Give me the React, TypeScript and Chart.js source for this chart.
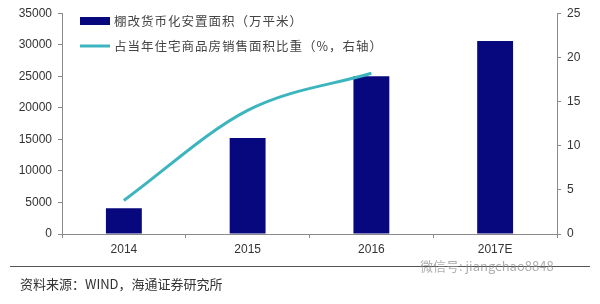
import React, { useEffect, useRef } from "react";
import { Chart, registerables } from "chart.js";

Chart.register(...registerables);

const categories = ["2014", "2015", "2016", "2017E"];
const areaValues = [4100, 15200, 25000, 30600];
const shareValues: (number | null)[] = [3.8, 14.0, 18.2, null];
const areaLabel = "棚改货币化安置面积（万平米）";
const shareLabel = "占当年住宅商品房销售面积比重（%，右轴）";
const sourceText = "资料来源：WIND，海通证券研究所";
const watermarkText = "微信号: jiangchao8848";

const BAR_COLOR = "#08087e";
const LINE_COLOR = "#3db5be";
const AXIS_COLOR = "#8a8a8a";
const TEXT_COLOR = "#333333";
const CJK = '"Noto Sans CJK SC", sans-serif';
const NUM = '"Liberation Sans", Arial, sans-serif';

const overlayPlugin = {
  id: "overlay",
  afterDraw(chart: any) {
    const ctx = chart.ctx as CanvasRenderingContext2D;
    ctx.save();
    // legend
    ctx.fillStyle = BAR_COLOR;
    ctx.fillRect(80, 17, 30, 8);
    ctx.strokeStyle = LINE_COLOR;
    ctx.lineWidth = 3;
    ctx.beginPath();
    ctx.moveTo(80, 46);
    ctx.lineTo(110, 46);
    ctx.stroke();
    ctx.fillStyle = "#444";
    ctx.font = `12.5px ${CJK}`;
    ctx.textBaseline = "middle";
    ctx.textAlign = "left";
    (ctx as any).letterSpacing = "1px";
    ctx.fillText(areaLabel, 114, 21);
    ctx.fillText(shareLabel, 114, 46);
    (ctx as any).letterSpacing = "0px";
    // bottom rule
    ctx.strokeStyle = "#555";
    ctx.lineWidth = 1;
    ctx.beginPath();
    ctx.moveTo(10, 266.5);
    ctx.lineTo(590, 266.5);
    ctx.stroke();
    // source
    ctx.fillStyle = TEXT_COLOR;
    ctx.font = `13px ${CJK}`;
    ctx.fillText(sourceText, 20, 284);
    // watermark
    ctx.fillStyle = "rgba(140,140,140,0.7)";
    ctx.font = `13px ${CJK}`;
    ctx.fillText(watermarkText, 420, 266);
    ctx.restore();
  },
};

const plain = (v: any) => String(v);

export default function App() {
  const ref = useRef<HTMLCanvasElement | null>(null);
  useEffect(() => {
    if (!ref.current) return;
    const chart = new Chart(ref.current, {
      type: "bar",
      data: {
        labels: categories,
        datasets: [
          {
            type: "line",
            label: shareLabel,
            data: shareValues,
            yAxisID: "y1",
            borderColor: LINE_COLOR,
            borderWidth: 3,
            pointRadius: 0,
            tension: 0.4,
            cubicInterpolationMode: "monotone",
            fill: false,
            order: 0,
          } as any,
          {
            type: "bar",
            label: areaLabel,
            data: areaValues,
            yAxisID: "y",
            backgroundColor: BAR_COLOR,
            categoryPercentage: 1,
            barPercentage: 0.29,
            order: 1,
          },
        ],
      },
      options: {
        responsive: false,
        animation: false,
        layout: { padding: { top: 13, left: 0, right: 0, bottom: 0 } },
        plugins: { legend: { display: false }, tooltip: { enabled: false } },
        scales: {
          x: {
            grid: { drawOnChartArea: false, drawTicks: true, tickLength: 4, color: AXIS_COLOR, offset: true },
            border: { color: AXIS_COLOR },
            ticks: { color: TEXT_COLOR, font: { family: NUM, size: 12 }, padding: 4 },
            afterFit(scale: any) {
              scale.height = 70;
            },
          },
          y: {
            position: "left",
            min: 0,
            max: 35000,
            ticks: { stepSize: 5000, color: TEXT_COLOR, font: { family: NUM, size: 12 }, padding: 6, callback: plain },
            grid: { drawOnChartArea: false, drawTicks: true, tickLength: 4, color: AXIS_COLOR },
            border: { color: AXIS_COLOR },
            afterFit(scale: any) {
              scale.width = 62;
            },
          },
          y1: {
            position: "right",
            min: 0,
            max: 25,
            ticks: { stepSize: 5, color: TEXT_COLOR, font: { family: NUM, size: 12 }, padding: 6, callback: plain },
            grid: { drawOnChartArea: false, drawTicks: true, tickLength: 4, color: AXIS_COLOR },
            border: { color: AXIS_COLOR },
            afterFit(scale: any) {
              scale.width = 43;
            },
          },
        },
      },
      plugins: [overlayPlugin],
    });
    return () => chart.destroy();
  }, []);
  return (
    <div style={{ position: "fixed", left: 0, top: 0, width: 600, height: 304, background: "#fff" }}>
      <canvas ref={ref} width={600} height={304} style={{ width: 600, height: 304, display: "block" }} />
    </div>
  );
}
